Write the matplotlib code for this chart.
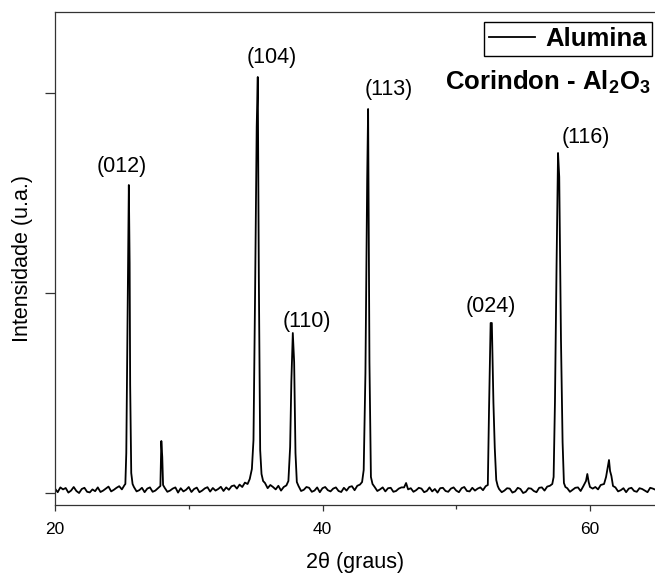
"""
XRD pattern of alumina (corundum) - recreated figure.
"""
import matplotlib
matplotlib.use('Agg')
import matplotlib.pyplot as plt
from matplotlib.ticker import FixedLocator
import numpy as np

plt.rcParams.update({
    'font.family': ['Liberation Sans', 'DejaVu Sans'],
    'mathtext.fontset': 'custom',
    'mathtext.rm': 'Liberation Sans:bold',
    'mathtext.it': 'Liberation Sans:bold',
    'mathtext.bf': 'Liberation Sans:bold',
})

# ---- data (2theta in degrees, intensity in a.u.) ----
# background stretches: regular 0.2 deg grid, typed noise values
bg_20_25 = [22, 4, 28, 18, 25, 2, 12, 30, 10, 0, 20, 26, 6, 3, 18, 9, 28, 5, 12, 22,
            32, 8, 16, 26, 34, 18, 40]
bg_26_28 = [30, 8, 14, 26, 4, 22, 28, 6, 12, 24]
bg_28_34 = [26, 6, 12, 22, 28, 2, 24, 8, 16, 30, 5, 20, 27, 4, 12, 23, 29, 7, 25, 12,
            20, 31, 10, 28, 16, 34, 38, 22, 42, 30, 52, 45]
bg_36_37 = [50, 24, 40, 30, 18, 36, 12, 30, 38]
bg_38_43 = [36, 10, 16, 30, 26, 6, 12, 28, 4, 24, 30, 14, 8, 22, 28, 10, 5, 26, 12, 30,
            34, 14, 36, 42]
bg_44_46 = [30, 10, 18, 28, 8, 24, 26, 6, 10, 22, 28]
bg_47_52 = [24, 6, 14, 26, 22, 4, 10, 28, 8, 20, 2, 24, 26, 10, 6, 22, 28, 12, 4, 24,
            30, 10, 8, 26, 12, 22, 28, 14, 34]
bg_53_57 = [20, 4, 12, 24, 22, 2, 8, 26, 20, 0, 6, 24, 22, 10, 4, 26, 28, 12, 32, 36]
bg_58_60 = [24, 6, 16, 26, 28, 10, 34]
bg_60_61 = [22, 30, 18, 40]
bg_62_65 = [28, 8, 14, 24, 4, 22, 26, 10, 6, 24, 20, 12, 4, 26, 22, 16]

# peak profiles
pk_012_x = [25.26, 25.33, 25.40, 25.52, 25.58, 25.62, 25.70, 25.80]
pk_012_y = [45, 200, 700, 1540, 1150, 540, 100, 45]
pk_28_x = [27.88, 27.95, 28.02, 28.08]
pk_28_y = [35, 260, 180, 40]
pk_104_x = [34.56, 34.72, 34.84, 34.96, 35.08, 35.16, 35.24, 35.34, 35.44, 35.56]
pk_104_y = [70, 120, 265, 1000, 1830, 2080, 1080, 215, 95, 60]
pk_110_x = [37.45, 37.58, 37.67, 37.78, 37.88, 37.98, 38.08]
pk_110_y = [60, 230, 555, 800, 655, 200, 55]
pk_113_x = [42.96, 43.08, 43.21, 43.34, 43.41, 43.51, 43.62, 43.74]
pk_113_y = [55, 115, 600, 1565, 1920, 655, 80, 45]
pk_46_x = [46.1, 46.25, 46.4]
pk_46_y = [28, 50, 18]
pk_024_x = [52.36, 52.45, 52.57, 52.66, 52.78, 52.88, 52.99, 53.1]
pk_024_y = [40, 415, 850, 850, 450, 225, 65, 35]
pk_116_x = [57.18, 57.28, 57.38, 57.50, 57.61, 57.70, 57.83, 57.95, 58.05, 58.16]
pk_116_y = [45, 80, 455, 1140, 1700, 1580, 765, 255, 50, 30]
pk_60_x = [59.7, 59.8, 59.9, 60.0]
pk_60_y = [60, 95, 55, 30]
pk_61_x = [61.05, 61.2, 61.32, 61.42, 61.5, 61.6, 61.72]
pk_61_y = [45, 80, 125, 165, 110, 85, 35]

hkl_labels = ['(012)', '(104)', '(110)', '(113)', '(024)', '(116)']
hkl_2theta = [25.52, 35.16, 37.78, 43.41, 52.62, 57.61]


def grid(start, values):
    return list(np.round(start + 0.2 * np.arange(len(values)), 2))


segments = [
    (grid(20.0, bg_20_25), bg_20_25), (pk_012_x, pk_012_y),
    (grid(25.9, bg_26_28), bg_26_28), (pk_28_x, pk_28_y),
    (grid(28.2, bg_28_34), bg_28_34), (pk_104_x, pk_104_y),
    (grid(35.7, bg_36_37), bg_36_37), (pk_110_x, pk_110_y),
    (grid(38.2, bg_38_43), bg_38_43), (pk_113_x, pk_113_y),
    (grid(43.9, bg_44_46), bg_44_46), (pk_46_x, pk_46_y),
    (grid(46.6, bg_47_52), bg_47_52), (pk_024_x, pk_024_y),
    (grid(53.2, bg_53_57), bg_53_57), (pk_116_x, pk_116_y),
    (grid(58.3, bg_58_60), bg_58_60), (pk_60_x, pk_60_y),
    (grid(60.2, bg_60_61), bg_60_61), (pk_61_x, pk_61_y),
    (grid(61.9, bg_62_65), bg_62_65),
]
two_theta = np.concatenate([s[0] for s in segments])
intensity = np.concatenate([s[1] for s in segments])

# label offsets (points) relative to each peak top
label_dx = [-5, 10, 10, 15, 0, 20]
label_dy = [13, 14, 8, 14, 12, 11]

W, H = 655, 574
fig = plt.figure(figsize=(W / 100, H / 100), dpi=100)
ax = fig.add_axes([55 / W, 69 / H, 600 / W, 493 / H])

ax.plot(two_theta, intensity, color='black', lw=1.3, label='Alumina')

ax.set_xlim(20, 20 + 600 / 13.375)
ax.set_ylim(-60, 2405)
ax.set_xticks([20, 40, 60])
ax.xaxis.set_minor_locator(FixedLocator([30, 50]))
ax.set_yticks([0, 1000, 2000])
ax.set_yticklabels([])
ax.spines['right'].set_visible(False)
for sp in ['left', 'bottom', 'top']:
    ax.spines[sp].set_linewidth(0.9)
    ax.spines[sp].set_color('#333333')
ax.tick_params(axis='x', which='major', direction='out', length=4.5, width=0.9,
               labelsize=12.5, pad=7.5, colors='#333333', labelcolor='black')
ax.tick_params(axis='x', which='minor', direction='out', length=3, width=0.9, colors='#333333')
ax.tick_params(axis='y', which='major', direction='out', length=7, width=0.9, colors='#333333')
ax.tick_params(top=False, right=False)

ax.set_xlabel('2θ (graus)', fontsize=15.5, labelpad=11)
ax.set_ylabel('Intensidade (u.a.)', fontsize=15.5, labelpad=5)

for lab, pos, dx, dy in zip(hkl_labels, hkl_2theta, label_dx, label_dy):
    top = np.interp(pos, two_theta, intensity)
    ax.annotate(lab, xy=(pos, top), xytext=(dx, dy), textcoords='offset points',
                ha='center', va='center', fontsize=15.5)

leg = ax.legend(loc='upper right', bbox_to_anchor=(652 / W, 552 / H),
                bbox_transform=fig.transFigure, fancybox=False, framealpha=1,
                edgecolor='black', prop={'size': 18.5, 'weight': 'bold'},
                handlelength=1.8, handletextpad=0.4, borderpad=0.2, borderaxespad=0)
leg.get_frame().set_linewidth(1.0)

fig.text(651 / W, 1 - 82 / H, r'Corindon - Al$_2$O$_3$', ha='right', va='center',
         fontsize=18.5, fontweight='bold')

fig.savefig('out.png', dpi=100, facecolor='white')
